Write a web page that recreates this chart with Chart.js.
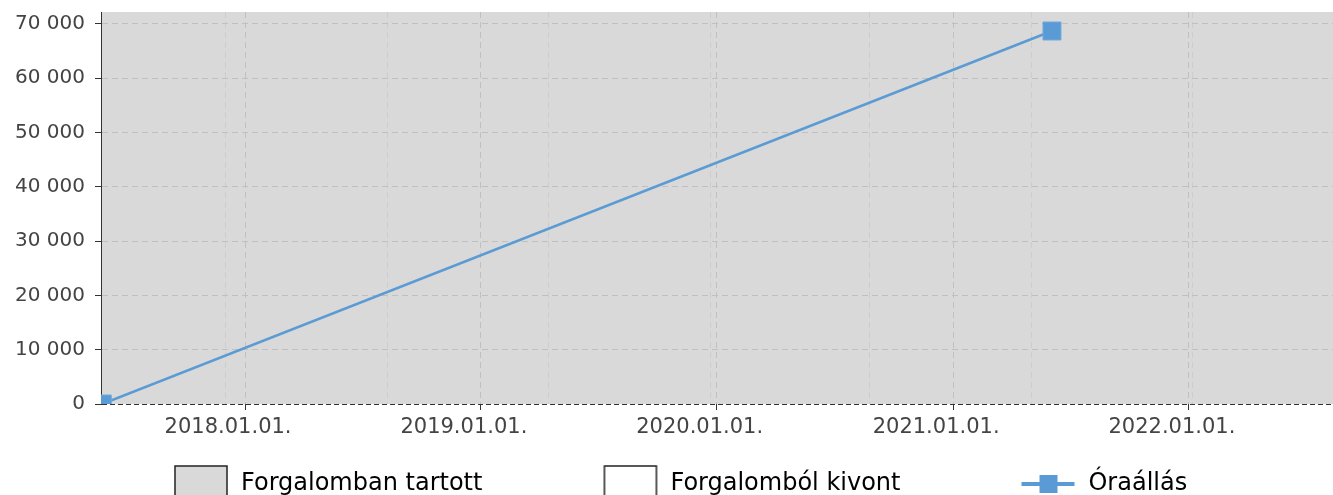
<!DOCTYPE html>
<html lang="hu">
<head>
<meta charset="utf-8">
<title>Óraállás</title>
<script src="https://cdn.jsdelivr.net/npm/chart.js@4.4.1/dist/chart.umd.min.js"></script>
<style>
    html, body { margin: 0; padding: 0; background: #fff; overflow: hidden; }
</style>
</head>
<body>
<canvas id="oraChart" width="1333" height="506"></canvas>
<script>
// adatok
const meresDatumok = ['2017-05-25', '2021-06-03'];
const oraallasErtekek = [0, 68700];
const forgalombanTartott = ['2017-05-23', '2022-08-12'];
const forgalombolKivont = [];
const evTickek = ['2018-01-01', '2019-01-01', '2020-01-01', '2021-01-01', '2022-01-01'];
const mellekTickek = ['2017-12-01', '2018-08-09', '2019-04-15', '2019-12-22', '2020-08-25', '2021-05-03', '2022-01-07'];
const yTickek = [0, 10000, 20000, 30000, 40000, 50000, 60000, 70000];
const yMax = 72200;

const t = s => Date.parse(s);
const ketJegy = n => String(n).padStart(2, '0');
const datumCimke = v => {
    const d = new Date(v);
    return d.getUTCFullYear() + '.' + ketJegy(d.getUTCMonth() + 1) + '.' + ketJegy(d.getUTCDate()) + '.';
};
const ezres = v => String(v).replace(/\B(?=(\d{3})+(?!\d))/g, ' ');

const KEK = '#5b9bd5';
const SZURKE = '#d9d9d9';
const JEL_SZELES = 144;

// legend jelek kirajzolasa kulon canvasra
function legendKep(tipus) {
    const c = document.createElement('canvas');
    c.width = JEL_SZELES;
    c.height = 38;
    const g = c.getContext('2d');
    const x0 = JEL_SZELES - 55;
    if (tipus === 'vonal') {
        g.strokeStyle = KEK;
        g.lineWidth = 4;
        g.beginPath();
        g.moveTo(x0, 19);
        g.lineTo(x0 + 53, 19);
        g.stroke();
        g.fillStyle = KEK;
        g.fillRect(x0 + 18, 10, 18, 18);
    } else {
        g.fillStyle = tipus;
        g.fillRect(x0 + 1, 1, 52, 36);
        g.strokeStyle = '#222';
        g.lineWidth = 1.5;
        g.strokeRect(x0 + 1, 1, 52, 36);
    }
    return c;
}
const legendKepek = [legendKep(SZURKE), legendKep('#ffffff'), legendKep('vonal')];

const hatterPlugin = {
    id: 'forgalomHatter',
    afterLayout(chart) {
        // legend kicsit jobbra, mint az eredetin
        chart.legend.left = 53;
    },
    beforeDraw(chart) {
        const { ctx, chartArea: a, scales: { x } } = chart;
        if (!forgalombanTartott.length) return;
        const x1 = Math.max(a.left, x.getPixelForValue(t(forgalombanTartott[0])));
        const x2 = Math.min(a.right, x.getPixelForValue(t(forgalombanTartott[1])));
        ctx.save();
        ctx.fillStyle = SZURKE;
        ctx.fillRect(x1, a.top, x2 - x1, a.height);
        ctx.restore();
    }
};

Chart.defaults.font.family = "'DejaVu Sans', sans-serif";
Chart.defaults.color = '#444';

const xMin = t(forgalombanTartott[0]);
const xMax = t(forgalombanTartott[1]);

new Chart(document.getElementById('oraChart'), {
    type: 'line',
    data: {
        datasets: [
            { label: 'Forgalomban tartott', data: [] },
            { label: 'Forgalomból kivont', data: forgalombolKivont },
            {
                label: 'Óraállás',
                data: meresDatumok.map((d, i) => ({ x: t(d), y: oraallasErtekek[i] })),
                borderColor: KEK,
                borderWidth: 2.5,
                pointStyle: 'rect',
                pointRadius: 12.7,
                pointBackgroundColor: KEK,
                pointBorderColor: '#6fa8dc',
                pointBorderWidth: 1,
                clip: 0
            }
        ]
    },
    options: {
        responsive: false,
        animation: false,
        devicePixelRatio: 1,
        layout: { autoPadding: false, padding: { left: 0, top: 12, right: 0, bottom: 0 } },
        plugins: {
            tooltip: { enabled: false },
            legend: {
                position: 'bottom',
                align: 'start',
                labels: {
                    usePointStyle: true,
                    pointStyleWidth: JEL_SZELES,
                    padding: 32,
                    color: '#444',
                    font: { size: 24 },
                    generateLabels: chart => chart.data.datasets.map((ds, i) => ({
                        text: ds.label,
                        pointStyle: legendKepek[i],
                        datasetIndex: i,
                        hidden: false,
                        lineWidth: 0,
                        fillStyle: 'transparent',
                        strokeStyle: 'transparent'
                    }))
                }
            }
        },
        scales: {
            x: {
                type: 'linear',
                min: xMin,
                max: xMax,
                border: { display: false, dash: [6, 4] },
                grid: { color: '#c0c0c0', tickColor: '#333', tickLength: 6, tickBorderDash: [] },
                ticks: {
                    autoSkip: false,
                    maxRotation: 0,
                    padding: 5,
                    labelOffset: -17,
                    color: '#444',
                    font: { size: 21 },
                    callback: v => datumCimke(v)
                },
                afterBuildTicks: s => { s.ticks = evTickek.map(d => ({ value: t(d) })); },
                afterFit: s => { s.height = 36; s.paddingLeft = 0; s.paddingRight = 0; }
            },
            x2: {
                type: 'linear',
                position: 'top',
                min: xMin,
                max: xMax,
                border: { display: false, dash: [6, 4] },
                grid: { color: '#cdcdcd', drawTicks: false },
                ticks: { display: false },
                afterBuildTicks: s => { s.ticks = mellekTickek.map(d => ({ value: t(d) })); }
            },
            y: {
                min: 0,
                max: yMax,
                border: {
                    display: true,
                    color: '#333',
                    width: 1,
                    dash: ctx => (ctx.tick && ctx.tick.value === 0) ? [5, 3] : [6, 4]
                },
                grid: {
                    color: ctx => (ctx.tick && ctx.tick.value === 0) ? '#333' : '#c0c0c0',
                    tickColor: '#333',
                    tickLength: 6,
                    tickBorderDash: []
                },
                ticks: {
                    padding: 10,
                    color: '#444',
                    font: { size: 20 },
                    callback: v => ezres(v)
                },
                afterBuildTicks: s => { s.ticks = yTickek.map(v => ({ value: v })); },
                afterFit: s => { s.width = 101; s.paddingTop = 0; s.paddingBottom = 0; }
            }
        }
    },
    plugins: [hatterPlugin]
});
</script>
</body>
</html>
